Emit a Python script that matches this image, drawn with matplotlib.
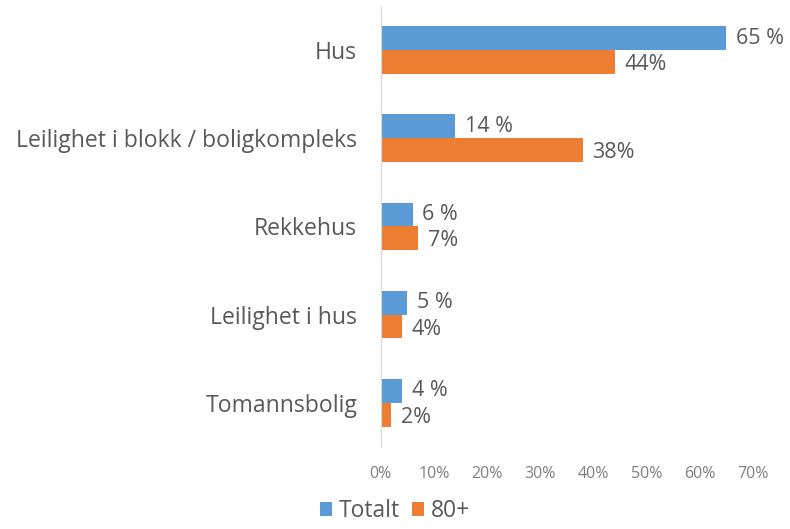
import numpy as np
import matplotlib.pyplot as plt
from matplotlib.ticker import PercentFormatter

categories = ['Hus', 'Leilighet i blokk / boligkompleks', 'Rekkehus',
              'Leilighet i hus', 'Tomannsbolig']
totalt = [65, 14, 6, 5, 4]
aatti = [44, 38, 7, 4, 2]
series_names = ['Totalt', '80+']

plt.rcParams['font.family'] = ['Open Sans', 'DejaVu Sans']
grey = '#595959'
blue = '#5B9BD5'
orange = '#ED7D31'

fig = plt.figure(figsize=(7.9, 5.29), dpi=100)
ax = fig.add_axes([0.482, 0.155, 0.471, 0.834])

y = np.arange(len(categories))
h = 0.27
b1 = ax.barh(y - h / 2, totalt, height=h, color=blue, label=series_names[0])
b2 = ax.barh(y + h / 2, aatti, height=h, color=orange, label=series_names[1])

for yi, v in zip(y, totalt):
    ax.text(v + 1.8, yi - h / 2, f'{v} %', va='center', ha='left',
            fontsize=15.5, color=grey)
for yi, v in zip(y, aatti):
    ax.text(v + 1.8, yi + h / 2 + 0.03, f'{v}%', va='center', ha='left',
            fontsize=15.5, color=grey)

ax.set_xlim(0, 70)
ax.set_ylim(len(categories) - 0.5, -0.5)
ax.set_xticks(np.arange(0, 71, 10))
ax.xaxis.set_major_formatter(PercentFormatter(decimals=0))
ax.set_yticks(y)
ax.set_yticklabels(categories, fontsize=16.6, color=grey)
ax.tick_params(axis='x', length=0, pad=14, labelsize=11.5, labelcolor='#7f7f7f')
ax.tick_params(axis='y', length=0, pad=17)

for s in ['top', 'right', 'bottom']:
    ax.spines[s].set_visible(False)
ax.spines['left'].set_color('#D9D9D9')

fig.legend(handles=[b1, b2], loc='lower center', bbox_to_anchor=(0.5, -0.028),
           ncol=2, frameon=False, fontsize=16.5, labelcolor=grey,
           handlelength=0.52, handleheight=0.52, handletextpad=0.3,
           columnspacing=0.5)

fig.savefig('out.png', dpi=100)
